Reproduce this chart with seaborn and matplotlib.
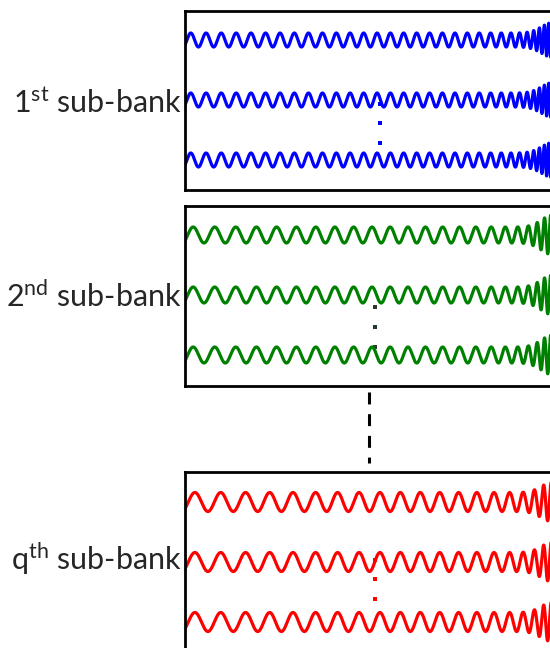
import numpy as np
import matplotlib
matplotlib.use("Agg")
import matplotlib.pyplot as plt
import seaborn as sns

# Sub-bank panels (pixel coordinates of the original figure)
labels = [r"1$^{\mathrm{st}}$ sub-bank", r"2$^{\mathrm{nd}}$ sub-bank", r"q$^{\mathrm{th}}$ sub-bank"]
colors = ["#0000ff", "#008000", "#ff0000"]
dot_colors = ["#0000ff", "#2a3a2a", "#ff0000"]
box_top = [11, 206, 472]
box_bottom = [190, 386, 655]
row_centers = [[40, 100, 160], [235, 295, 355], [502, 562, 622]]
label_baseline = [113, 307, 570]
dot_y = [[104, 123, 143], [307, 327, 347], [560, 579, 599]]
dot_x = [380, 375, 375]

# chirp settings
start_period = [15.5, 22.0, 26.7]
amplitude = [7.0, 8.0, 9.5]
lin_rise = [0.30, 0.40, 0.55]
burst = [2.6, 2.4, 2.2]
burst_amp = [1.5, 1.5, 1.1]

box_left = 185
box_right = 565

sns.set_style("white")
plt.rcParams["font.family"] = ["Lato", "DejaVu Sans"]
plt.rcParams["mathtext.fontset"] = "custom"
plt.rcParams["mathtext.rm"] = "Lato"
plt.rcParams["mathtext.it"] = "Lato:italic"
plt.rcParams["mathtext.bf"] = "Lato:bold"

fig = plt.figure(figsize=(5.5, 6.48), dpi=100)
W, H = 550, 648

# background layer for labels and the dashed connector
ax0 = fig.add_axes([0, 0, 1, 1])
ax0.set_xlim(0, W)
ax0.set_ylim(H, 0)
ax0.axis("off")

for i in range(3):
    ax0.text(182, label_baseline[i], labels[i], ha="right", va="baseline",
             fontsize=22, color="#262626")

ax0.plot([369, 369], [392, 463], color="black", lw=2.2,
         linestyle=(0, (3.9, 3.2)), solid_capstyle="butt")

xs = np.linspace(box_left, 556, 8000)
u = (xs - box_left) / (W - box_left)

for i in range(3):
    top, bot = box_top[i], box_bottom[i]
    ax = fig.add_axes([box_left / W, 1 - bot / H, (box_right - box_left) / W, (bot - top) / H])
    ax.set_xlim(box_left, box_right)
    ax.set_ylim(bot, top)
    f = (1 / start_period[i]) * (1 + lin_rise[i] * u + burst[i] * u ** 16)
    phase = 2 * np.pi * np.cumsum(f) * (xs[1] - xs[0])
    env = amplitude[i] * (1 + burst_amp[i] * np.exp(-((xs - 553) / 16) ** 2))
    for c in row_centers[i]:
        ys = c - env * np.sin(phase - np.pi / 4)
        sns.lineplot(x=xs, y=ys, ax=ax, color=colors[i], lw=2.3,
                     sort=False, estimator=None)
    sns.scatterplot(x=[dot_x[i]] * 3, y=dot_y[i], ax=ax, color=dot_colors[i],
                    marker="s", s=7, linewidth=0)
    ax.set_xticks([])
    ax.set_yticks([])
    ax.set_xlabel("")
    ax.set_ylabel("")
    for sp in ax.spines.values():
        sp.set_visible(True)
        sp.set_color("black")
        sp.set_linewidth(2.0)

fig.savefig("out.png", dpi=100)
